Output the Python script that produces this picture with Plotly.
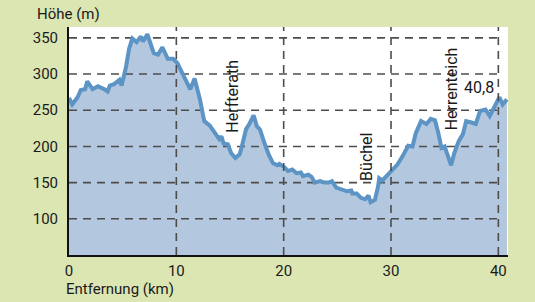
import plotly.graph_objects as go

km = [0.0, 0.3, 0.8, 1.1, 1.5, 1.7, 2.2, 2.7, 3.3, 3.6, 3.8, 4.2, 4.7, 4.9, 5.3, 5.6, 5.9,
      6.3, 6.7, 6.9, 7.3, 7.6, 7.9, 8.3, 8.7, 9.2, 9.7, 10.1, 10.4, 10.9, 11.3, 11.7, 12.2,
      12.6, 13.1, 13.6, 14.0, 14.2, 14.4, 14.8, 15.1, 15.5, 15.9, 16.1, 16.5, 16.8, 17.2,
      17.5, 17.8, 18.2, 18.6, 19.0, 19.4, 19.6, 20.1, 20.4, 20.8, 21.2, 21.6, 21.8, 22.3,
      22.6, 22.9, 23.4, 23.8, 24.2, 24.5, 24.9, 25.4, 25.9, 26.3, 26.4, 26.8, 27.2, 27.6,
      27.9, 28.1, 28.5, 28.8, 28.9, 29.2, 29.7, 30.1, 30.6, 31.1, 31.6, 32.0, 32.3, 32.8,
      33.3, 33.7, 34.1, 34.4, 34.7, 35.0, 35.6, 35.9, 36.3, 36.7, 37.0, 37.5, 37.9, 38.3,
      38.8, 39.2, 39.8, 40.1, 40.4, 40.8]
elev = [267, 258, 268, 278, 279, 290, 279, 283, 279, 276, 284, 286, 292, 284, 309, 335, 349,
        344, 352, 345, 355, 342, 329, 327, 337, 321, 321, 315, 305, 291, 279, 294, 265,
        235, 229, 217, 210, 214, 204, 203, 191, 184, 189, 200, 224, 231, 243,
        228, 223, 205, 189, 177, 174, 176, 171, 166, 168, 163, 164, 159, 161,
        158, 150, 152, 150, 150, 152, 143, 140, 138, 139, 135, 135, 129, 127,
        132, 123, 126, 145, 156, 153, 161, 166, 175, 187, 201, 200, 218, 235,
        231, 238, 236, 219, 198, 200, 174, 191, 207, 217, 235, 233, 231, 249,
        251, 242, 261, 268, 258, 265]

x_ticks = [0, 10, 20, 30, 40]
y_ticks = [100, 150, 200, 250, 300, 350]
place_labels = ["Herfterath", "Büchel", "Herrenteich"]
total_label = "40,8"
x_title = "Entfernung (km)"
y_title = "Höhe (m)"

X_MAX = 40.9
GRID_END = 40.3
Y_MIN, Y_MAX = 50, 365

FONT = "Roboto"
TXT = "#1a1a1a"
GRID = "#4d4d4d"

fig = go.Figure()

# filled area (no outline)
fig.add_trace(go.Scatter(x=km, y=elev, mode="lines", line=dict(width=0, color="#b3c7df"),
                         fill="tozeroy", fillcolor="#b3c7df", hoverinfo="skip"))

# dashed grid drawn above the fill
gx, gy = [], []
for v in y_ticks:
    gx += [0, GRID_END, None]
    gy += [v, v, None]
fig.add_trace(go.Scatter(x=gx, y=gy, mode="lines",
                         line=dict(color=GRID, width=1.6, dash="8px,6px"), hoverinfo="skip"))

# profile line
fig.add_trace(go.Scatter(x=km, y=elev, mode="lines",
                         line=dict(color="#5b94c5", width=4), hoverinfo="skip"))

vx, vy = [], []
for v in x_ticks[1:]:
    vx += [v, v, None]
    vy += [Y_MIN, Y_MAX, None]
fig.add_trace(go.Scatter(x=vx, y=vy, mode="lines",
                         line=dict(color=GRID, width=1.6, dash="8px,6px"), hoverinfo="skip"))

ann = [
    dict(x=15.2, y=269, text=place_labels[0], textangle=-90),
    dict(x=27.7, y=186, text=place_labels[1], textangle=-90),
    dict(x=35.6, y=279, text=place_labels[2], textangle=-90),
    dict(x=38.2, y=282, text=total_label, textangle=0),
]
for a in ann:
    fig.add_annotation(x=a["x"], y=a["y"], text=a["text"], textangle=a["textangle"],
                       showarrow=False, xref="x", yref="y",
                       font=dict(family=FONT, size=16, color=TXT))

# axis titles as left-aligned annotations
fig.add_annotation(text=y_title, x=0, y=1, xref="paper", yref="paper",
                   xanchor="left", yanchor="bottom", xshift=-34, yshift=2, showarrow=False,
                   font=dict(family=FONT, size=15, color=TXT))
fig.add_annotation(text=x_title, x=0, y=0, xref="paper", yref="paper",
                   xanchor="left", yanchor="top", xshift=-5, yshift=-23, showarrow=False,
                   font=dict(family=FONT, size=15, color=TXT))

fig.update_layout(
    width=535, height=302,
    margin=dict(l=69, r=27, t=27, b=47, autoexpand=False),
    paper_bgcolor="#dbe6b3",
    plot_bgcolor="#ffffff",
    showlegend=False,
    font=dict(family=FONT, size=15, color=TXT),
)

fig.update_xaxes(range=[0, X_MAX], tickvals=x_ticks, ticktext=[str(v) for v in x_ticks],
                 showgrid=False, zeroline=False, showline=True, linecolor="#111111",
                 linewidth=2, ticks="", ticklabelstandoff=1, automargin=False)
fig.update_yaxes(range=[Y_MIN, Y_MAX], tickvals=y_ticks, ticktext=[str(v) for v in y_ticks],
                 showgrid=False, zeroline=False, showline=True, linecolor="#111111",
                 linewidth=2, ticks="", ticklabelstandoff=6, automargin=False)

fig.write_html("out.html", config={"displayModeBar": False},
               post_script="document.body.style.margin='0';document.body.style.background='#dbe6b3';")
